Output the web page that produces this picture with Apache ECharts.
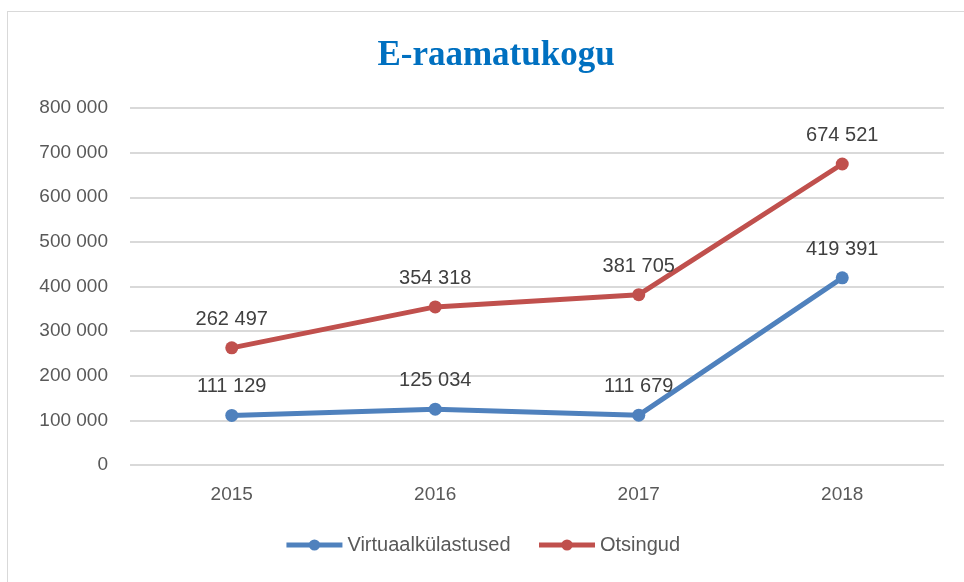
<!DOCTYPE html>
<html>
<head>
<meta charset="utf-8">
<script src="https://cdn.jsdelivr.net/npm/echarts@6/dist/echarts.min.js"></script>
<style>
  html, body { margin: 0; padding: 0; background: #fff; }
  #frame { position: absolute; left: 7px; top: 11px; width: 980px; height: 600px; border: 1px solid #d9d9d9; }
  #chart { width: 964px; height: 582px; position: absolute; left: 0; top: 0; }
</style>
</head>
<body>
<div id="frame"></div>
<div id="chart"></div>
<script>
var years = ['2015', '2016', '2017', '2018'];
var virtuaal = [111129, 125034, 111679, 419391];
var otsingud = [262497, 354318, 381705, 674521];
var yTicks = [0, 800000, 100000];

function fmt(v) {
    return String(v).replace(/\B(?=(\d{3})+(?!\d))/g, ' ');
}

var myChart = echarts.init(document.getElementById('chart'));
var labelStyle = {
    show: true,
    position: 'top',
    distance: 12,
    color: '#404040',
    fontSize: 20,
    fontFamily: 'Liberation Sans',
    formatter: function (p) { return fmt(p.value); }
};
var option = {
    animation: false,
    title: {
        text: 'E-raamatukogu',
        left: 491,
        textAlign: 'center',
        top: 33,
        textStyle: {
            color: '#0070C0',
            fontFamily: 'Liberation Serif',
            fontWeight: 'bold',
            fontSize: 35
        }
    },
    legend: {
        bottom: 22,
        left: 'center',
        itemWidth: 56,
        itemHeight: 14,
        itemGap: 26,
        lineStyle: { width: 5 },
        textStyle: {
            color: '#595959',
            fontSize: 20,
            fontFamily: 'Liberation Sans'
        },
        data: ['Virtuaalkülastused', 'Otsingud']
    },
    grid: {
        left: 130,
        right: 20,
        top: 108,
        bottom: 117
    },
    xAxis: {
        type: 'category',
        data: years,
        boundaryGap: true,
        axisLine: { show: false },
        axisTick: { show: false },
        axisLabel: {
            color: '#595959',
            fontSize: 19,
            margin: 20,
            fontFamily: 'Liberation Sans'
        }
    },
    yAxis: {
        type: 'value',
        min: yTicks[0],
        max: yTicks[1],
        interval: yTicks[2],
        axisLine: { show: false },
        axisTick: { show: false },
        splitLine: { lineStyle: { color: '#d9d9d9', width: 2 } },
        axisLabel: {
            color: '#595959',
            fontSize: 19,
            margin: 22,
            fontFamily: 'Liberation Sans',
            formatter: function (v) { return fmt(v); }
        }
    },
    series: [
        {
            name: 'Virtuaalkülastused',
            type: 'line',
            data: virtuaal,
            symbol: 'circle',
            symbolSize: 13,
            lineStyle: { color: '#4F81BD', width: 5 },
            itemStyle: { color: '#4F81BD' },
            label: labelStyle
        },
        {
            name: 'Otsingud',
            type: 'line',
            data: otsingud,
            symbol: 'circle',
            symbolSize: 13,
            lineStyle: { color: '#C0504D', width: 5 },
            itemStyle: { color: '#C0504D' },
            label: labelStyle
        }
    ]
};
myChart.setOption(option);
</script>
</body>
</html>
